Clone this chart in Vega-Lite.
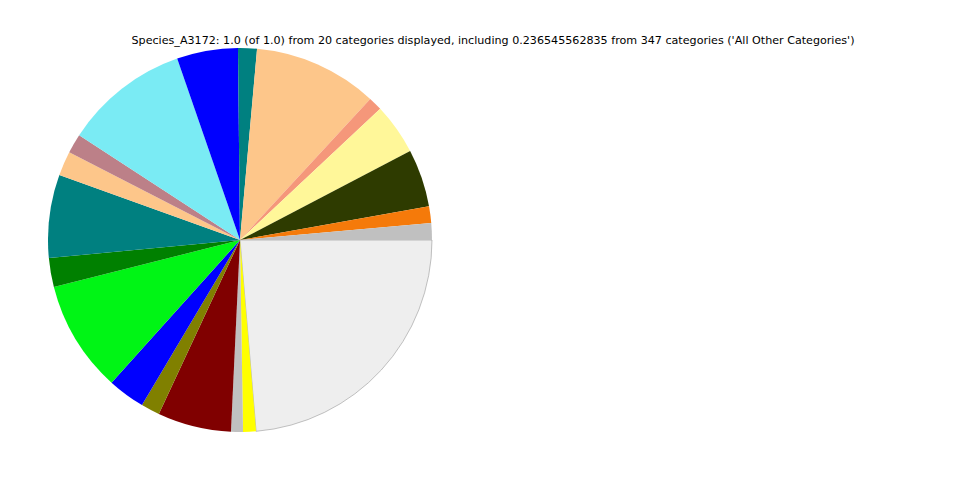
{
  "$schema": "https://vega.github.io/schema/vega-lite/v6.json",
  "autosize": "none",
  "width": 384,
  "height": 384,
  "padding": {"left": 48, "top": 48, "right": 528, "bottom": 48},
  "background": "white",
  "title": {
    "text": "Species_A3172: 1.0 (of 1.0) from 20 categories displayed, including 0.236545562835 from 347 categories ('All Other Categories')",
    "font": "DejaVu Sans",
    "fontSize": 11.13,
    "fontWeight": "normal",
    "color": "black",
    "anchor": "middle",
    "dx": 253,
    "offset": -4,
    "baseline": "middle"
  },
  "config": {"view": {"stroke": null}},
  "data": {
    "values": [
      {"order": 1, "category": "All Other Categories", "value": 85.2, "color": "#eeeeee"},
      {"order": 2, "category": "C19", "value": 3.9, "color": "#ffff00"},
      {"order": 3, "category": "C18", "value": 3.6, "color": "#c0c0c0"},
      {"order": 4, "category": "C17", "value": 22.3, "color": "#800000"},
      {"order": 5, "category": "C16", "value": 5.7, "color": "#808000"},
      {"order": 6, "category": "C15", "value": 11.3, "color": "#0000ff"},
      {"order": 7, "category": "C14", "value": 33.8, "color": "#00f515"},
      {"order": 8, "category": "C13", "value": 8.8, "color": "#008000"},
      {"order": 9, "category": "C12", "value": 25.2, "color": "#008080"},
      {"order": 10, "category": "C11", "value": 7.4, "color": "#fdc68a"},
      {"order": 11, "category": "C10", "value": 5.9, "color": "#bc8088"},
      {"order": 12, "category": "C9", "value": 37.8, "color": "#7aebf4"},
      {"order": 13, "category": "C8", "value": 18.5, "color": "#0000ff"},
      {"order": 14, "category": "C7", "value": 5.7, "color": "#008080"},
      {"order": 15, "category": "C6", "value": 37.6, "color": "#fdc68a"},
      {"order": 16, "category": "C5", "value": 4.2, "color": "#f5977a"},
      {"order": 17, "category": "C4", "value": 15.5, "color": "#fff799"},
      {"order": 18, "category": "C3", "value": 17.5, "color": "#2e3b00"},
      {"order": 19, "category": "C2", "value": 5.04, "color": "#f57a0a"},
      {"order": 20, "category": "C1", "value": 5.06, "color": "#c0c0c0"}
    ]
  },
  "mark": {"type": "arc", "outerRadius": 192},
  "encoding": {
    "theta": {"field": "value", "type": "quantitative", "stack": true, "scale": {"range": [1.5707963, 7.8539816]}},
    "order": {"field": "order", "type": "quantitative"},
    "color": {"field": "color", "type": "nominal", "scale": null, "legend": null},
    "stroke": {"condition": {"test": "datum.category === 'All Other Categories'", "value": "#999999"}, "value": null},
    "strokeWidth": {"value": 0.6}
  }
}
